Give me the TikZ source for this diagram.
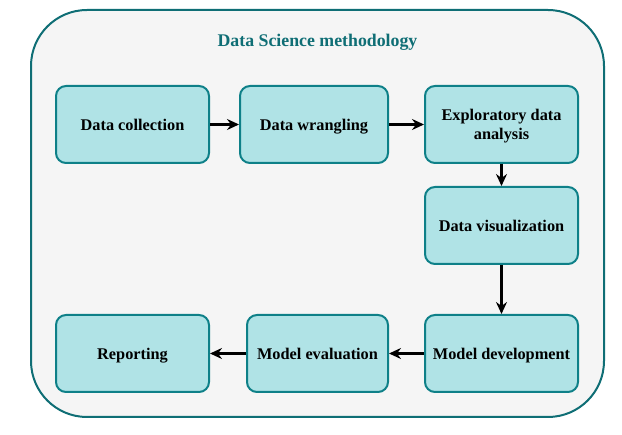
\documentclass[tikz,border=0pt]{standalone}
\usepackage{fontspec}
\setmainfont{Liberation Serif}
\usetikzlibrary{positioning,arrows.meta}
\definecolor{boxfill}{HTML}{B0E3E6}
\definecolor{boxline}{HTML}{0E8088}
\definecolor{frameline}{HTML}{0F6E75}
\definecolor{framefill}{HTML}{F5F5F5}

\begin{document}
\begin{tikzpicture}[
    x=1pt, y=-1pt,
    step box/.style={minimum width=153pt, minimum height=77pt, draw=boxline, fill=boxfill,
        line width=2pt, rounded corners=10pt, align=center, text height=14pt, text depth=1pt,
        font=\fontsize{16.3}{19}\selectfont\bfseries},
    arrow/.style={-{Stealth[length=12pt,width=11pt,inset=4pt]}, line width=2.2pt, black},
    title/.style={font=\fontsize{17.8}{21}\selectfont\bfseries, text=frameline}
]
\useasboundingbox (0,0) rectangle (622,435);

% Frame and title
\draw[draw=frameline, fill=framefill, line width=2pt, rounded corners=56pt] (31,10) rectangle (604,417);
\node[title] (title) at (317.5,42) {Data Science methodology};

% Top row
\node[step box] (collect) at (132.5,124.5) {Data collection};
\node[step box, minimum width=148pt] (wrangle) at (314,124.5) {Data wrangling};
\node[step box, text height=, text depth=-3.5pt] (explore) at (501.5,124.5) {Exploratory data\\analysis};

% Right column
\node[step box] (visual) at (501.5,225.5) {Data visualization};
\node[step box] (develop) at (501.5,353.5) {Model development};

% Bottom row
\node[step box, minimum width=141pt] (evaluate) at (317.5,353.5) {Model evaluation};
\node[step box] (report) at (132.5,353.5) {Reporting};

% Flow
\draw[arrow] (collect) -- (wrangle);
\draw[arrow] (wrangle) -- (explore);
\draw[arrow] (explore) -- (visual);
\draw[arrow] (visual) -- (develop);
\draw[arrow] (develop) -- (evaluate);
\draw[arrow] (evaluate) -- (report);

\end{tikzpicture}
\end{document}
